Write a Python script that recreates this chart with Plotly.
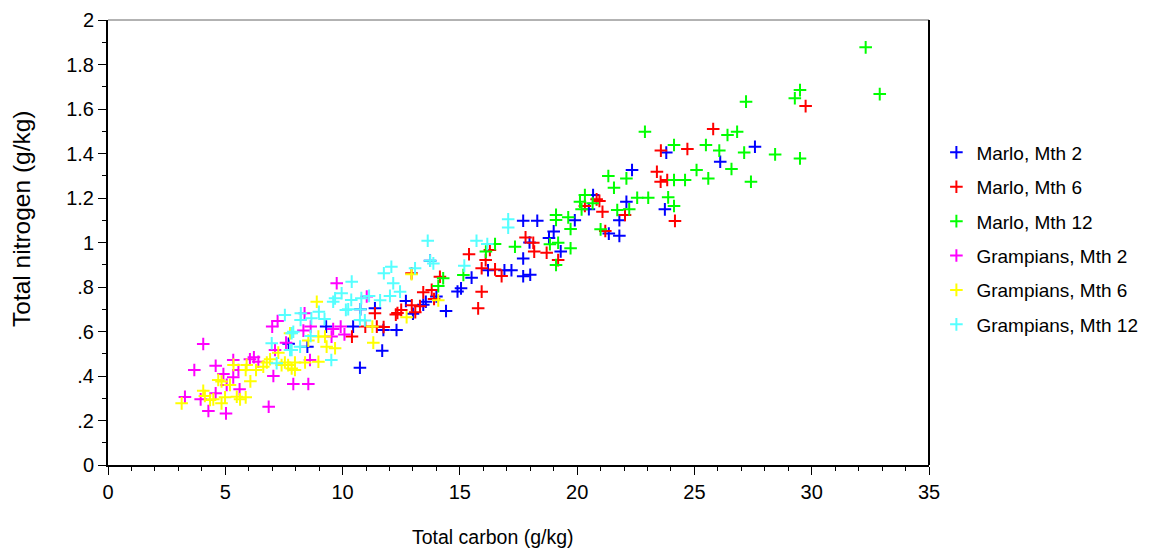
import plotly.graph_objects as go

series_names = ["Marlo, Mth 2", "Marlo, Mth 6", "Marlo, Mth 12",
                "Grampians, Mth 2", "Grampians, Mth 6", "Grampians, Mth 12"]
series_colors = ["#0000ff", "#ff0000", "#00ff00", "#ff00ff", "#ffff00", "#55ffff"]

marlo2_c = [7.7, 8.5, 9.3, 10.45, 10.74, 10.76, 11.38, 11.69, 11.74, 12.3, 12.7, 13.0, 13.44, 13.55, 14.0,
            14.41, 13.73, 14.9, 15.05, 15.5, 16.2, 16.9, 17.2, 17.7, 18.0, 17.7, 17.97, 17.7, 18.3, 18.8,
            19.0, 19.3, 19.9, 20.5, 20.68, 21.35, 21.8, 21.8, 22.1, 22.34, 23.74, 23.8, 26.1, 27.58]
marlo2_n = [0.545, 0.532, 0.622, 0.622, 0.437, 0.70, 0.704, 0.514, 0.607, 0.607, 0.737, 0.68, 0.72, 0.734, 0.757,
            0.692, 0.918, 0.78, 0.794, 0.842, 0.875, 0.875, 0.875, 0.848, 0.855, 0.928, 1.0, 1.098, 1.098, 1.02,
            1.05, 0.96, 1.1, 1.15, 1.213, 1.04, 1.03, 1.1, 1.183, 1.326, 1.149, 1.404, 1.363, 1.43]

marlo6_c = [10.4, 10.97, 11.46, 11.75, 11.38, 12.27, 12.34, 12.5, 12.95, 13.1, 13.3, 13.44, 13.8, 13.9, 12.94,
            14.15, 15.39, 15.78, 15.93, 16.1, 16.28, 15.93, 16.5, 16.78, 17.8, 18.13, 18.17, 18.7, 19.19, 20.33,
            20.83, 20.95, 21.08, 21.2, 22.04, 23.4, 23.56, 23.84, 23.57, 24.7, 24.17, 25.8, 29.74]
marlo6_n = [0.577, 0.622, 0.622, 0.62, 0.682, 0.676, 0.683, 0.697, 0.718, 0.687, 0.714, 0.776, 0.787, 0.746, 0.862,
            0.846, 0.947, 0.704, 0.779, 0.921, 0.966, 0.884, 0.879, 0.849, 1.023, 0.999, 0.959, 0.954, 0.921, 1.164,
            1.194, 1.187, 1.138, 1.052, 1.124, 1.318, 1.273, 1.281, 1.413, 1.42, 1.097, 1.51, 1.613]

marlo12_c = [14.29, 14.08, 15.15, 16.11, 16.5, 17.35, 18.84, 19.19, 19.72, 19.1, 19.1, 19.1, 19.62, 19.72, 20.12,
             20.19, 20.33, 20.66, 21.0, 21.33, 21.57, 21.71, 22.1, 22.22, 22.56, 23.03, 22.89, 23.88, 24.13, 24.13,
             24.6, 24.13, 25.09, 25.59, 25.49, 26.06, 26.41, 26.82, 26.58, 27.12, 27.41, 28.44, 27.2, 29.5, 29.28,
             29.5, 32.3, 32.9]
marlo12_n = [0.839, 0.804, 0.854, 0.959, 0.993, 0.981, 0.992, 0.999, 0.974, 0.899, 1.124, 1.101, 1.113, 1.061, 1.183,
             1.149, 1.213, 1.176, 1.059, 1.299, 1.246, 1.146, 1.288, 1.149, 1.201, 1.201, 1.498, 1.203, 1.164, 1.281,
             1.281, 1.438, 1.326, 1.288, 1.438, 1.413, 1.483, 1.498, 1.33, 1.404, 1.273, 1.396, 1.633, 1.378, 1.648,
             1.685, 1.877, 1.667]

gram2_c = [4.06, 3.68, 3.28, 4.28, 5.03, 4.59, 4.92, 5.34, 5.34, 5.06, 5.56, 5.61, 4.59, 3.95, 6.05,
           6.22, 6.41, 6.85, 7.05, 7.0, 7.23, 7.12, 7.59, 7.9, 8.54, 8.33, 8.64, 8.61, 8.38, 9.6,
           9.92, 10.08, 9.75, 11.03, 9.53]
gram2_n = [0.544, 0.427, 0.306, 0.243, 0.232, 0.446, 0.409, 0.472, 0.394, 0.36, 0.427, 0.34, 0.322, 0.295, 0.475,
           0.484, 0.464, 0.262, 0.40, 0.622, 0.647, 0.517, 0.55, 0.364, 0.364, 0.604, 0.622, 0.472, 0.682, 0.611,
           0.622, 0.587, 0.817, 0.757, 0.577]

gram6_c = [3.14, 4.06, 4.13, 4.35, 4.49, 4.84, 4.99, 4.7, 4.84, 5.2, 5.35, 5.49, 5.63, 5.87, 5.87,
           5.91, 6.07, 6.31, 6.62, 6.77, 6.91, 7.26, 7.40, 7.54, 7.68, 7.83, 7.97, 7.97, 7.76, 8.4,
           8.54, 8.97, 8.9, 8.97, 9.25, 9.32, 9.68, 11.31, 11.27, 12.73, 12.94, 14.08]
gram6_n = [0.277, 0.334, 0.31, 0.292, 0.295, 0.277, 0.304, 0.382, 0.375, 0.36, 0.45, 0.307, 0.295, 0.304, 0.427,
           0.45, 0.376, 0.427, 0.442, 0.461, 0.475, 0.505, 0.449, 0.461, 0.449, 0.434, 0.427, 0.461, 0.592, 0.461,
           0.559, 0.464, 0.734, 0.577, 0.577, 0.532, 0.525, 0.55, 0.622, 0.664, 0.857, 0.74]

gram12_c = [7.54, 8.22, 8.67, 8.99, 9.23, 9.6, 10.14, 7.83, 6.98, 7.19, 7.76, 8.19, 8.64, 9.52, 8.21,
            7.9, 7.83, 13.63, 15.71, 13.73, 13.87, 15.19, 13.09, 12.08, 11.76, 12.16, 12.45, 12.02, 10.39, 9.96,
            9.68, 10.37, 10.24, 10.8, 11.13, 10.76, 10.74, 10.95, 11.6, 17.06, 17.06, 16.17]
gram12_n = [0.674, 0.682, 0.659, 0.689, 0.656, 0.734, 0.697, 0.592, 0.547, 0.457, 0.517, 0.532, 0.58, 0.472, 0.652,
            0.599, 0.517, 1.008, 1.008, 0.918, 0.906, 0.896, 0.884, 0.891, 0.862, 0.817, 0.779, 0.76, 0.824, 0.772,
            0.749, 0.742, 0.70, 0.75, 0.76, 0.70, 0.652, 0.65, 0.74, 1.104, 1.067, 0.993]

x_ticks = [0, 5, 10, 15, 20, 25, 30, 35]
y_tickvals = [0, 0.2, 0.4, 0.6, 0.8, 1.0, 1.2, 1.4, 1.6, 1.8, 2.0]
y_ticktext = ["0", ".2", ".4", ".6", ".8", "1", "1.2", "1.4", "1.6", "1.8", "2"]
x_title = "Total carbon (g/kg)"
y_title = "Total nitrogen (g/kg)"

data = [(marlo2_c, marlo2_n), (marlo6_c, marlo6_n), (marlo12_c, marlo12_n),
        (gram2_c, gram2_n), (gram6_c, gram6_n), (gram12_c, gram12_n)]

fig = go.Figure()
for i, ((xs, ys), name, col) in enumerate(zip(data, series_names, series_colors)):
    fig.add_trace(go.Scatter(
        x=xs, y=ys, mode="markers", name=name, legendgroup=f"g{i}",
        marker=dict(symbol="cross-thin", size=9, color=col,
                    line=dict(color=col, width=2)),
    ))

font_family = "Liberation Sans, Arial, sans-serif"
fig.update_layout(
    width=1143, height=540,
    margin=dict(l=100, r=222, t=12, b=83, autoexpand=False),
    paper_bgcolor="white", plot_bgcolor="white",
    font=dict(family=font_family, size=16, color="black"),
    showlegend=True,
    legend=dict(x=1.009, y=0.745, xanchor="left", yanchor="top",
                font=dict(size=19), tracegroupgap=6.7, itemwidth=30,
                bgcolor="rgba(0,0,0,0)"),
    xaxis=dict(range=[0, 35], tickvals=x_ticks, showgrid=False, zeroline=False,
               automargin=False,
               showline=True, linecolor="black", linewidth=2,
               ticks="outside", ticklen=8, tickwidth=1, tickcolor="black",
               minor=dict(dtick=1, ticks="outside", ticklen=4, tickcolor="black", showgrid=False),
               tickfont=dict(size=20)),
    yaxis=dict(range=[0, 2], tickvals=y_tickvals, ticktext=y_ticktext, showgrid=False, zeroline=False,
               automargin=False,
               showline=True, linecolor="black", linewidth=2,
               ticks="outside", ticklen=8, tickwidth=1, tickcolor="black",
               minor=dict(dtick=0.1, ticks="outside", ticklen=4, tickcolor="black", showgrid=False),
               tickfont=dict(size=20)),
    annotations=[
        dict(text=x_title, xref="paper", yref="paper", x=0.469, y=-0.162,
             xanchor="center", yanchor="middle", showarrow=False, font=dict(size=19.5)),
        dict(text=y_title, xref="paper", yref="paper", x=-0.106, y=0.555,
             xanchor="center", yanchor="middle", showarrow=False, textangle=-90,
             font=dict(size=24.5)),
    ],
)
fig.add_shape(type="line", xref="paper", yref="paper", x0=0, x1=1, y0=1, y1=1,
              line=dict(color="#666666", width=1))
fig.add_shape(type="line", xref="paper", yref="paper", x0=1, x1=1, y0=0, y1=1,
              line=dict(color="black", width=2))

fig.write_html("out.html")
